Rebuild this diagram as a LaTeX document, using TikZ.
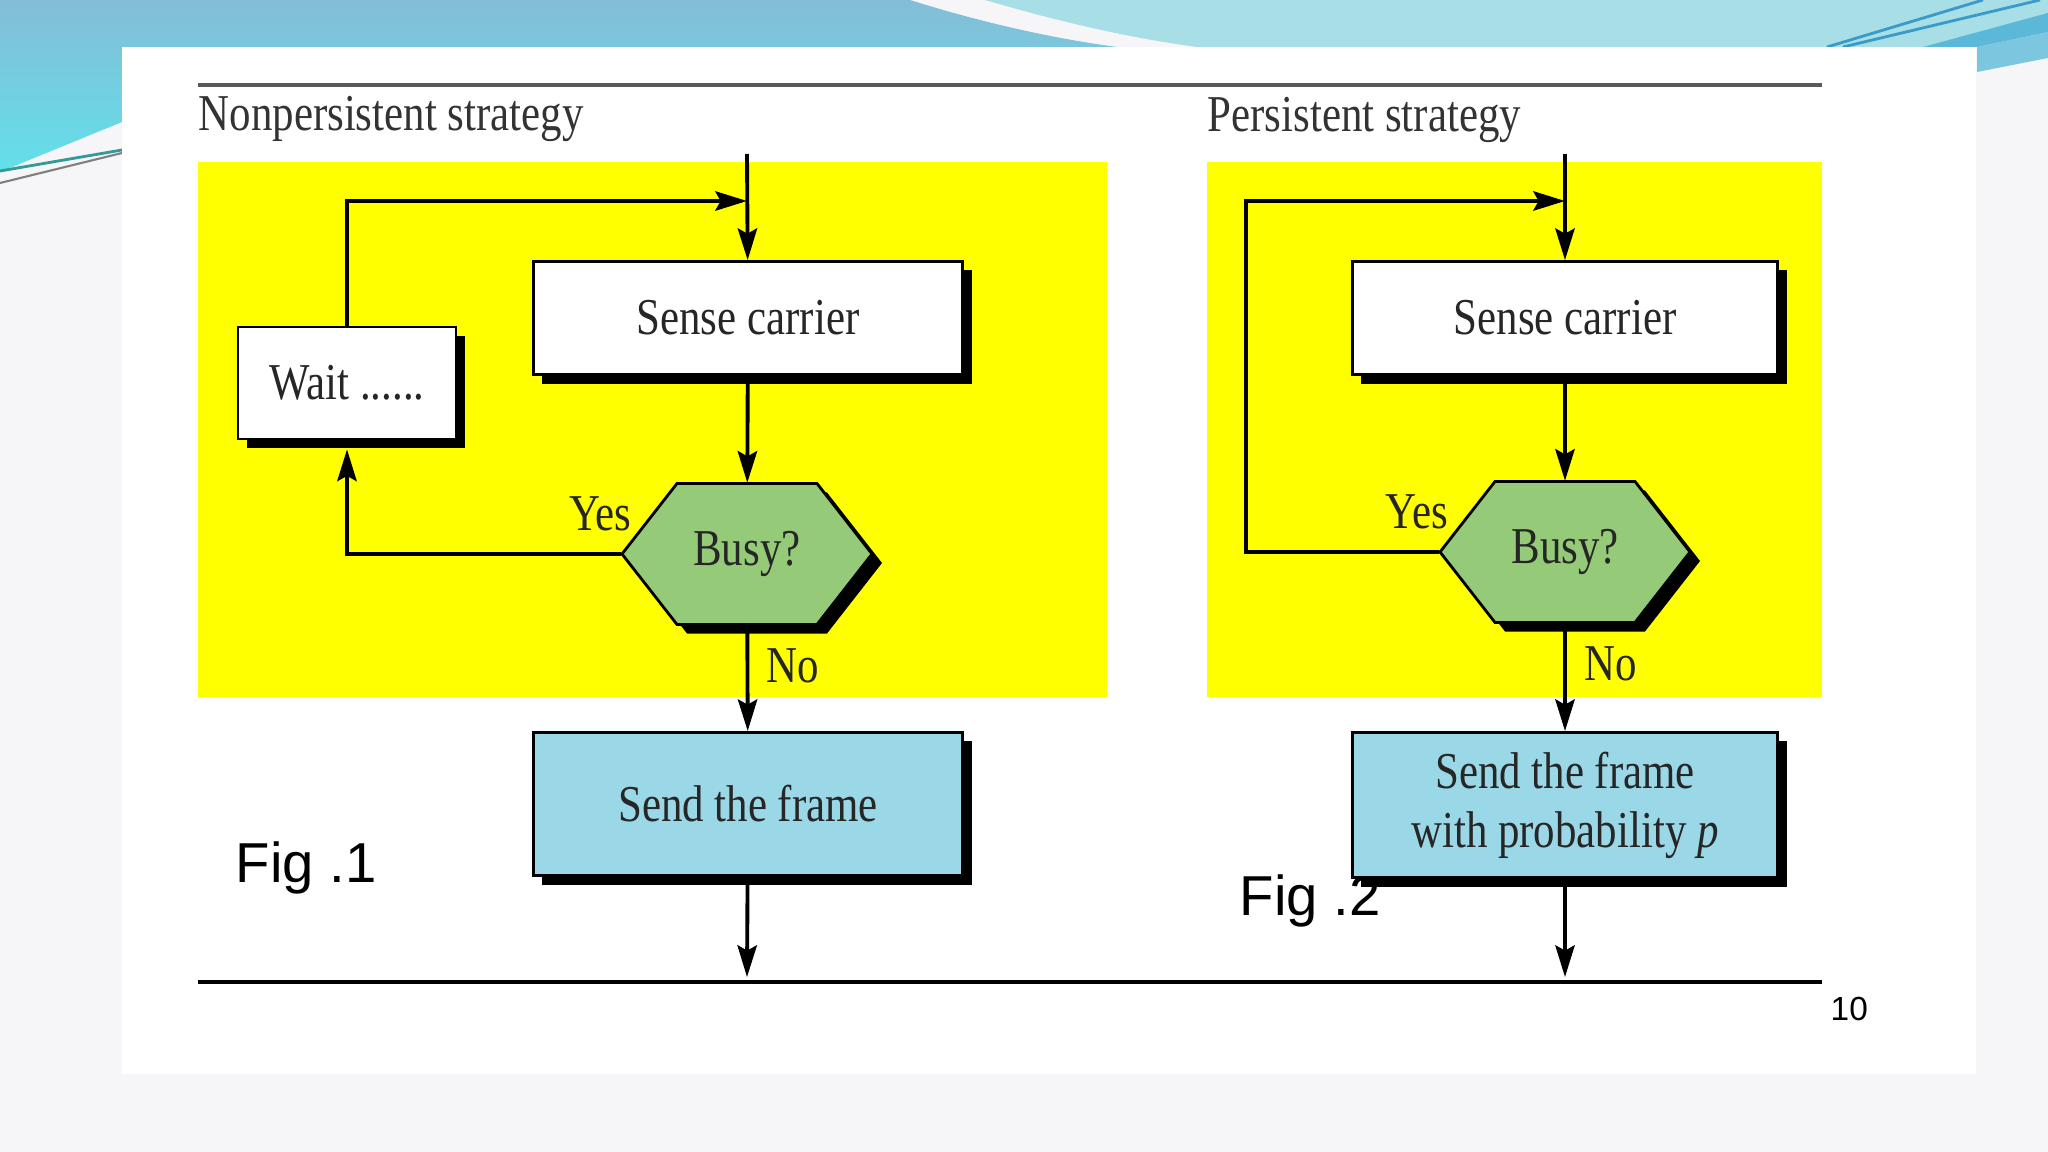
\documentclass[tikz,border=0pt]{standalone}
\usepackage{fontspec}
\setmainfont{Liberation Serif}[FakeStretch=0.83]
\setsansfont{Liberation Sans}
\usetikzlibrary{arrows.meta,shadows}

\definecolor{slideblue}{HTML}{84BDD7}
\definecolor{slidecyan}{HTML}{62E0EA}
\definecolor{slideteal}{HTML}{A8DEE5}
\definecolor{slidedark}{HTML}{5BB8D9}
\definecolor{slidemid}{HTML}{7DC6DF}
\definecolor{slideline}{HTML}{3A9BC8}
\definecolor{paper}{HTML}{F6F6F8}
\definecolor{panel}{HTML}{FFFF00}
\definecolor{busygreen}{HTML}{95CB78}
\definecolor{sendblue}{HTML}{9AD7E7}

\begin{document}
\begin{tikzpicture}[x=0.01cm, y=-0.01cm,
    flow/.style={line width=1.1pt, -{Stealth[length=9pt,width=5.5pt,inset=1.5pt]}},
    box/.style={draw, line width=0.8pt, fill=white, minimum width=4.29cm, minimum height=1.13cm,
      align=center, text=black!85, font=\fontsize{14.7}{16.8}\selectfont,
      drop shadow={shadow xshift=0.09cm, shadow yshift=-0.09cm, opacity=1, fill=black}},
    hexspot/.style={minimum width=2.5cm, minimum height=1.41cm, inner sep=0pt,
      text=black!85, font=\fontsize{14.7}{16}\selectfont},
    lbl/.style={inner sep=1pt, text=black!85, font=\fontsize{14.7}{16}\selectfont},
    ttl/.style={anchor=base west, inner sep=0pt, text=black!80, font=\fontsize{14.7}{16}\selectfont},
    fig/.style={anchor=base west, inner sep=0pt, font=\sffamily\fontsize{16}{18}\selectfont}]
  \useasboundingbox (0,0) rectangle (2048,1152);

  % slide background
  \fill[paper] (0,0) rectangle (2048,1152);
  \shade[top color=slideblue, bottom color=slidecyan] (0,0) -- (910,0)
    .. controls (980,22) and (1050,38) .. (1117,47) -- (122,47) -- (122,122) -- (0,172) -- cycle;
  \fill[slideteal] (985,0) .. controls (1060,22) and (1130,38) .. (1197,47) -- (2048,47) -- (2048,0) -- cycle;
  \fill[slidedark] (1923,47) -- (2048,13) -- (2048,32) -- (1977,47) -- cycle;
  \fill[slidemid] (1977,47) -- (2048,32) -- (2048,58) -- (1977,72) -- cycle;
  \draw[slideline, line width=0.8pt] (1827,47) -- (1983,0);
  \draw[slideline, line width=0.8pt] (1843,47) -- (2040,0);
  \draw[teal!80, line width=0.8pt] (0,171) -- (122,150);
  \draw[gray, line width=0.6pt] (0,183) -- (122,153);
  \fill[white] (122,47) rectangle (1976,1074);

  % rules, titles, panels
  \draw[gray!70!black, line width=1.2pt] (198,85) -- (1822,85);
  \draw[line width=0.9pt] (198,982) -- (1822,982);
  \node[ttl] (title1) at (198,131) {Nonpersistent strategy};
  \node[ttl] (title2) at (1207,132) {Persistent strategy};
  \fill[panel] (198,162) rectangle (1107,697);
  \fill[panel] (1207,162) rectangle (1822,697);

  \coordinate (in1) at (747,154);
  \coordinate (join1) at (747,201);
  \coordinate (out1) at (747,977);
  \coordinate (busy1c) at (747,554);
  \coordinate (in2) at (1565,154);
  \coordinate (join2) at (1565,201);
  \coordinate (loop2) at (1246,201);
  \coordinate (out2) at (1565,977);
  \coordinate (busy2c) at (1565,552);

  % hexagons
  \foreach \c in {busy1c,busy2c} {
    \fill[shift={(\c)}, shift={(10,9)}] (-125,0) -- (-70,-70.5) -- (70,-70.5) -- (125,0) -- (70,70.5) -- (-70,70.5) -- cycle;
    \filldraw[fill=busygreen, line width=0.8pt, shift={(\c)}] (-125,0) -- (-70,-70.5) -- (70,-70.5) -- (125,0) -- (70,70.5) -- (-70,70.5) -- cycle;
  }

  % nonpersistent
  \node[box] (sense1) at (748,318) {Sense carrier};
  \node[box, minimum width=2.18cm, minimum height=1.12cm] (wait1) at (347,383) {Wait ......};
  \node[hexspot] (busy1) at (busy1c) {Busy?};
  \node[box, fill=sendblue, minimum height=1.43cm] (send1) at (748,804) {Send the frame};
  \node[fig] (fig1) at (235,882) {Fig .1};

  % persistent
  \node[box, minimum width=4.25cm] (sense2) at (1565,318) {Sense carrier};
  \node[hexspot] (busy2) at (busy2c) {Busy?};
  \node[fig] (fig2) at (1239,915) {Fig .2};
  \node[box, fill=sendblue, minimum width=4.25cm, minimum height=1.45cm] (send2) at (1565,805)
    {Send the frame\\with probability \textit{p}};
  \node[anchor=base west, inner sep=0pt, font=\sffamily\fontsize{9.5}{11}\selectfont] (page) at (1830,1020) {10};

  \draw[flow] (in1) -- (sense1);
  \draw[flow] (wait1) |- (join1);
  \draw[flow] (sense1) -- (busy1);
  \draw[flow] (busy1.west) node[lbl, anchor=south east, xshift=4.5pt, yshift=5pt] (yes1) {Yes} -| ([yshift=-0.09cm]wait1.south);
  \draw[flow] (busy1) -- node[lbl, right=4pt, pos=0.38] (no1) {No} (send1);
  \draw[flow] (send1) -- (out1);

  \draw[flow] (in2) -- (sense2);
  \draw[flow] (sense2) -- (busy2);
  \draw[flow] (busy2.west) node[lbl, anchor=south east, xshift=4pt, yshift=5pt] (yes2) {Yes} -| (loop2) -- (join2);
  \draw[flow] (busy2) -- node[lbl, right=4pt, pos=0.38] (no2) {No} (send2);
  \draw[flow] (send2) -- (out2);
\end{tikzpicture}
\end{document}
